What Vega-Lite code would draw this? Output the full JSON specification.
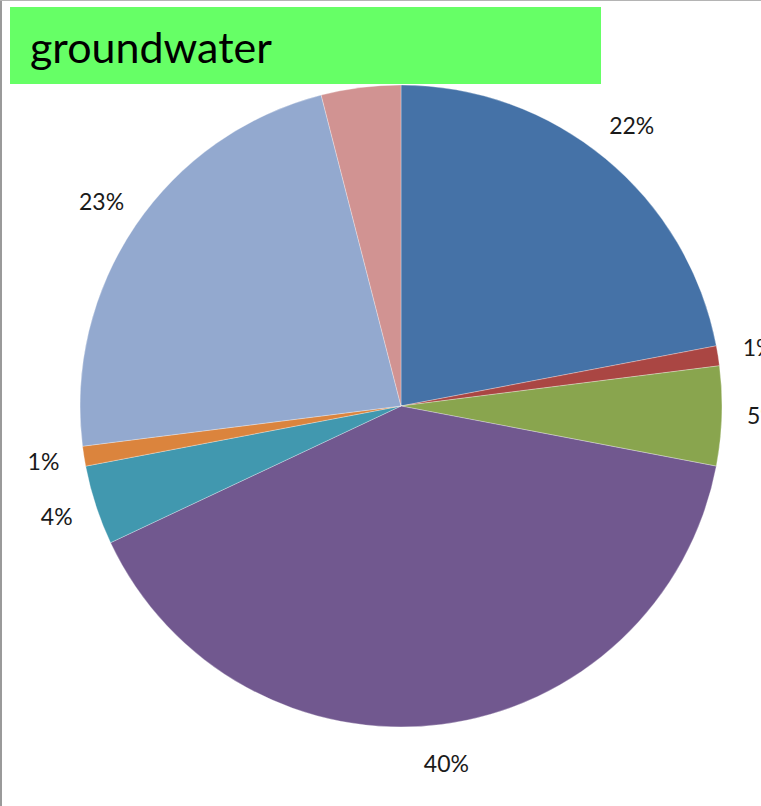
{
  "$schema": "https://vega.github.io/schema/vega-lite/v6.json",
  "background": "white",
  "padding": 0,
  "spacing": 0,
  "bounds": "flush",
  "config": {"view": {"stroke": null}},
  "vconcat": [
    {
      "width": 761,
      "height": 1,
      "view": {"fill": "#b4b4b4", "stroke": null},
      "data": {"values": [{}]},
      "mark": {"type": "text", "text": "", "fontSize": 0}
    },
    {
      "spacing": 8,
      "bounds": "flush",
      "hconcat": [
        {
          "width": 2,
          "height": 805,
          "view": {"fill": "#9a9a9a", "stroke": null},
          "data": {"values": [{}]},
          "mark": {"type": "text", "text": "", "fontSize": 0}
        },
        {
          "spacing": 0,
          "bounds": "flush",
          "vconcat": [
            {
              "width": 591,
              "height": 6,
              "data": {"values": [{}]},
              "mark": {"type": "text", "text": "", "fontSize": 0}
            },
            {
              "width": 591,
              "height": 77,
              "view": {"fill": "#66FF66", "stroke": null},
              "data": {"values": [{"title": "groundwater"}]},
              "mark": {
                "type": "text",
                "x": 20,
                "y": 56,
                "align": "left",
                "baseline": "alphabetic",
                "font": "Lato",
                "fontSize": 43,
                "color": "#000000"
              },
              "encoding": {"text": {"field": "title", "type": "nominal"}}
            },
            {
              "width": 782,
              "height": 644,
              "data": {
                "values": [
                  {"category": "1", "order": 1, "share": 22, "label": "22%"},
                  {"category": "2", "order": 2, "share": 1, "label": "1%"},
                  {"category": "3", "order": 3, "share": 5, "label": "5%"},
                  {"category": "4", "order": 4, "share": 40, "label": "40%"},
                  {"category": "5", "order": 5, "share": 4, "label": "4%"},
                  {"category": "6", "order": 6, "share": 1, "label": "1%"},
                  {"category": "7", "order": 7, "share": 23, "label": "23%"},
                  {"category": "8", "order": 8, "share": 4, "label": ""}
                ]
              },
              "encoding": {
                "theta": {"field": "share", "type": "quantitative", "stack": true},
                "order": {"field": "order", "type": "quantitative"}
              },
              "layer": [
                {
                  "mark": {"type": "arc", "outerRadius": 321, "stroke": "#ffffff", "strokeWidth": 0.5, "strokeOpacity": 0.6},
                  "encoding": {
                    "color": {
                      "field": "category",
                      "type": "nominal",
                      "scale": {
                        "domain": ["1", "2", "3", "4", "5", "6", "7", "8"],
                        "range": ["#4572A7", "#AA4643", "#89A54E", "#71588F", "#4198AF", "#DB843D", "#93A9CF", "#D19392"]
                      },
                      "legend": null
                    }
                  }
                },
                {
                  "mark": {"type": "text", "radius": 362, "font": "Lato", "fontSize": 23, "color": "#1a1a1a"},
                  "encoding": {
                    "text": {"field": "label", "type": "nominal"}
                  }
                }
              ]
            }
          ]
        }
      ]
    }
  ]
}
